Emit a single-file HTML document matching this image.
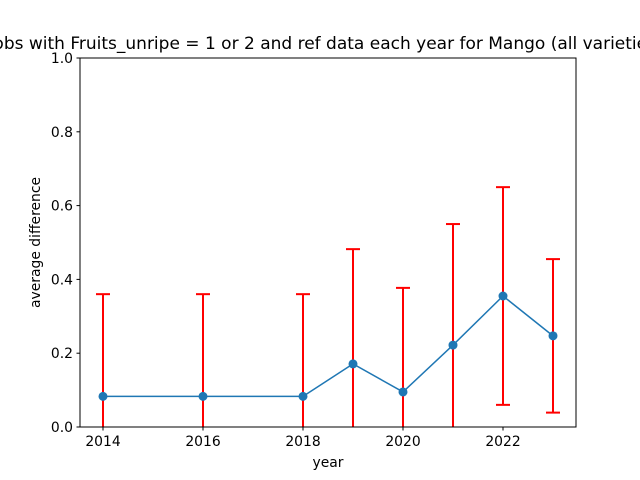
<!DOCTYPE html>
<html><head><meta charset="utf-8"><style>body{margin:0;background:#fff}svg{display:block;font-family:"DejaVu Sans","Liberation Sans",sans-serif}</style></head>
<body>
<svg id="chart" width="640" height="480" viewBox="0 0 640 480">
<defs><clipPath id="clip"><rect x="80" y="58" width="496" height="369"/></clipPath></defs>
<rect x="0" y="0" width="640" height="480" fill="#fff"/>
<text x="328" y="49" font-size="17" text-anchor="middle">obs with Fruits_unripe = 1 or 2 and ref data each year for Mango (all varieties)</text>
<g id="err" clip-path="url(#clip)"></g>
<g id="series"></g>
<rect x="80" y="58" width="496" height="369" fill="none" stroke="#000" stroke-width="1"/>
<g id="axes"></g>
<text x="328" y="467" font-size="13.9" text-anchor="middle">year</text>
<text transform="translate(40,242.5) rotate(-90)" font-size="13.9" text-anchor="middle">average difference</text>
</svg>
<script>
const years = [2014, 2016, 2018, 2019, 2020, 2021, 2022, 2023];
const values = [0.083, 0.083, 0.083, 0.171, 0.095, 0.222, 0.355, 0.247];
const errors = [0.277, 0.277, 0.277, 0.311, 0.282, 0.328, 0.295, 0.208];
const xTicks = [2014, 2016, 2018, 2020, 2022];
const yTicks = [0.0, 0.2, 0.4, 0.6, 0.8, 1.0];
const NS = "http://www.w3.org/2000/svg";
const X = v => 80 + (v - 2013.54) / (2023.46 - 2013.54) * 496;
const Y = v => 427 - v * 369;
function mk(tag, attrs, parent) { const e = document.createElementNS(NS, tag); for (const k in attrs) e.setAttribute(k, attrs[k]); parent.appendChild(e); return e; }
const err = document.getElementById('err'), ser = document.getElementById('series'), ax = document.getElementById('axes');
years.forEach((yr, i) => {
  const x = X(yr), lo = Y(values[i] - errors[i]), hi = Y(values[i] + errors[i]);
  const g = mk('g', {}, err);
  
  
  mk('line', {x1: x, x2: x, y1: lo, y2: hi, stroke: 'red', 'stroke-width': 2}, g);
  mk('line', {x1: x - 7, x2: x + 7, y1: hi, y2: hi, stroke: 'red', 'stroke-width': 2}, g);
  mk('line', {x1: x - 7, x2: x + 7, y1: lo, y2: lo, stroke: 'red', 'stroke-width': 2}, g);
});
const line = mk('polyline', {points: years.map((yr, i) => X(yr) + ',' + Y(values[i])).join(' '), fill: 'none', stroke: '#1f77b4', 'stroke-width': 1.5}, ser);


years.forEach((yr, i) => {
  const c = mk('circle', {cx: X(yr), cy: Y(values[i]), r: 4.5, fill: '#1f77b4'}, ser);
  
  
});
xTicks.forEach(t => {
  const x = X(t);
  mk('line', {x1: x, x2: x, y1: 427, y2: 430.5, stroke: '#000'}, ax);
  const tx = mk('text', {x: x, y: 446, 'font-size': 13.9, 'text-anchor': 'middle'}, ax);
  tx.textContent = t;
  
  
});
yTicks.forEach(t => {
  const y = Y(t);
  mk('line', {x1: 76.5, x2: 80, y1: y, y2: y, stroke: '#000'}, ax);
  const tx = mk('text', {x: 73, y: y + 5, 'font-size': 13.9, 'text-anchor': 'end'}, ax);
  tx.textContent = t.toFixed(1);
  
  
});
</script>
</body></html>
